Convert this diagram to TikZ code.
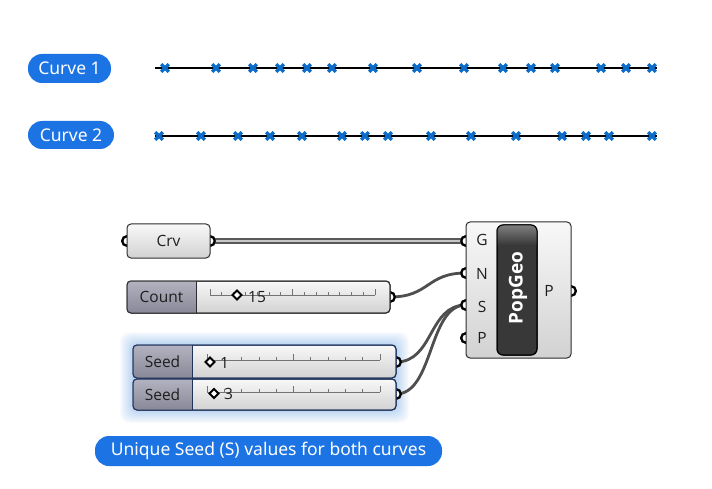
\documentclass[tikz,border=0pt]{standalone}
\usepackage{fontspec}
\setmainfont{Noto Sans}
\newfontfamily\ghfont{Open Sans}
\usetikzlibrary{calc}
\definecolor{pillblue}{RGB}{28,116,228}
\definecolor{xblue}{RGB}{12,108,200}
\definecolor{wirec}{RGB}{78,78,78}
\definecolor{ghborder}{RGB}{45,45,45}
\definecolor{selborder}{RGB}{30,50,90}
\definecolor{ghtop}{RGB}{248,248,248}
\definecolor{ghbot}{RGB}{210,210,210}
\definecolor{lbltop}{RGB}{178,178,192}
\definecolor{lblbot}{RGB}{136,136,152}
\definecolor{glowc}{RGB}{60,140,235}
\definecolor{ghtext}{RGB}{30,30,30}
\tikzset{
  pill/.style={fill=pillblue, text=white, rounded corners=14pt, inner sep=0pt,
    font=\fontsize{17.5}{20}\selectfont},
  xm/.pic={\draw[xblue, line width=3.2pt] (-3.8,-3.8)--(3.8,3.8) (-3.8,3.8)--(3.8,-3.8);},
  curveline/.style={black, line width=1.3pt},
  ghbox/.style={draw=ghborder, line width=1pt, rounded corners=4pt, top color=ghtop,
    bottom color=ghbot, inner sep=0pt, outer sep=0pt, anchor=north west},
  ghlabel/.style={text=ghtext, font=\ghfont\fontsize{15.5}{18}\selectfont, inner sep=0pt},
  port/.style={circle, draw=black, line width=2.2pt, fill=white, minimum size=9.5pt, inner sep=0pt},
  wire/.style={wirec, line width=2.8pt},
  dwire/.style={draw=black!65, double=black!22, line width=1.7pt, double distance=1.8pt},
  lblfill/.style={top color=lbltop, bottom color=lblbot},
  track/.style={black!55, line width=0.7pt},
  knob/.style={draw=black, fill=white, line width=2pt},
}
\begin{document}
\begin{tikzpicture}[x=1pt,y=1pt]
\useasboundingbox (0,0) rectangle (712,-489);
\fill[white] (0,0) rectangle (712,-489);

% ---- curve 1 ----
\node[pill, minimum width=83pt, minimum height=29pt] (lab1) at (69.5,-68.5) {Curve 1};
\coordinate (c1a) at (155,-68);
\coordinate (c1b) at (657,-68);
\draw[curveline] (c1a) -- (c1b);
\foreach \x in {165,216,253,280,307,332,373,417,464,503,531,555,601,626,652}
  \pic at (\x,-68) {xm};

% ---- curve 2 ----
\node[pill, minimum width=86pt, minimum height=28pt] (lab2) at (71,-135) {Curve 2};
\coordinate (c2a) at (155,-136);
\coordinate (c2b) at (657,-136);
\draw[curveline] (c2a) -- (c2b);
\foreach \x in {159,201,238,270,302,342,365,388,431,471,516,562,586,609,652}
  \pic at (\x,-136) {xm};

% ---- bottom label ----
\node[pill, minimum width=347pt, minimum height=30pt] (note) at (268.5,-451)
  {Unique Seed (S) values for both curves};

% ---- glow behind seed sliders ----
\foreach \e in {1,...,13}
  \fill[glowc, opacity=0.028, rounded corners=9pt] (133-\e,-345+\e) rectangle (396+\e,-410-\e);

% ---- ports ----
\node[port] (crvin)  at (127,-241) {};
\node[port] (crvout) at (210,-241) {};
\node[port] (cntout) at (390,-297) {};
\node[port] (s1out)  at (396,-362) {};
\node[port] (s2out)  at (396,-394) {};
\node[port] (pG) at (466,-241) {};
\node[port] (pN) at (466,-273) {};
\node[port] (pS) at (466,-305) {};
\node[port] (pP) at (466,-338) {};
\node[port] (pOut) at (571,-291) {};

% ---- wires ----
\draw[dwire] (crvout.center) -- (pG.center);
\draw[wire] (cntout.center) .. controls +(40,0) and +(-40,0) .. (pN.center);
\draw[wire] (s1out.center) .. controls +(38,0) and +(-38,0) .. (pS.center);
\draw[wire] (s2out.center) .. controls +(38,0) and +(-38,0) .. (pS.center);
\foreach \p in {crvin,crvout,cntout,s1out,s2out,pG,pN,pS,pP,pOut}
  \node[port] at (\p) {};

% ---- Crv ----
\node[ghbox, minimum width=83pt, minimum height=34pt] (crv) at (127,-224) {};
\node[ghlabel] (crvtxt) at (crv.center) {Crv};

% ---- Count slider ----
\node[ghbox, minimum width=263pt, minimum height=32pt] (cnt) at (127,-281) {};
\begin{scope}
  \clip (127,-281) rectangle (196,-313);
  \fill[lblfill, rounded corners=4pt] (127,-281) rectangle (210,-313);
\end{scope}
\draw[ghborder, line width=1pt] (196,-281) -- (196,-313);
\draw[ghborder, line width=1pt, rounded corners=4pt] (cnt.north west) rectangle (cnt.south east);
\node[ghlabel] (cntlbl) at (161.5,-297) {Count};
\draw[track] (210,-295) -- (375,-295);
\foreach \i in {0,...,14} \draw[track] (210+\i*165/14,-295) -- ++(0,3);
\foreach \i in {0,7,14} \draw[track] (210+\i*165/14,-295) -- ++(0,6);
\draw[knob] (237,-290.5) -- (241.5,-295) -- (237,-299.5) -- (232.5,-295) -- cycle;
\node[ghlabel, anchor=west] (cntval) at (248,-297) {15};

% ---- Seed sliders ----
\node[ghbox, draw=selborder, minimum width=263pt, minimum height=33pt] (seed1) at (133,-345) {};
\node[ghbox, draw=selborder, minimum width=263pt, minimum height=31pt] (seed2) at (133,-379) {};
\foreach \yt/\yb in {345/378,379/410}{
  \begin{scope}
    \clip (133,-\yt) rectangle (192,-\yb);
    \fill[lblfill, rounded corners=4pt] (133,-\yt) rectangle (205,-\yb);
  \end{scope}
  \draw[selborder, line width=1pt] (192,-\yt) -- (192,-\yb);
  \draw[selborder, line width=1pt, rounded corners=4pt] (133,-\yt) rectangle (396,-\yb);
}
\node[ghlabel] (s1lbl) at (162.5,-362) {Seed};
\node[ghlabel] (s2lbl) at (162.5,-394.5) {Seed};
\foreach \yy in {-360,-392}{
  \draw[track] (207,\yy) -- (380,\yy);
  \foreach \i in {0,...,10} \draw[track] (207+\i*17.3,\yy) -- ++(0,3);
  \foreach \i in {0,5,10} \draw[track] (207+\i*17.3,\yy) -- ++(0,6);
}
\draw[knob] (210,-357.5) -- (214.5,-362) -- (210,-366.5) -- (205.5,-362) -- cycle;
\node[ghlabel, anchor=west] (s1val) at (220,-362.5) {1};
\draw[knob] (214,-389) -- (218.5,-393.5) -- (214,-398) -- (209.5,-393.5) -- cycle;
\node[ghlabel, anchor=west] (s2val) at (224,-394) {3};

% ---- PopGeo component ----
\node[ghbox, minimum width=105pt, minimum height=136pt] (pg) at (466,-222) {};
\node[draw=black, line width=1pt, rounded corners=6pt, minimum width=40pt, minimum height=130pt,
  fill=black!78, inner sep=0pt, outer sep=0pt] (pgname) at (517,-290) {};
\begin{scope}
  \clip[rounded corners=6pt] (pgname.north west) rectangle (pgname.south east);
  \shade[top color=black!50, bottom color=black!78] (497,-225) rectangle (537,-245);
\end{scope}
\draw[black, line width=1pt, rounded corners=6pt] (pgname.north west) rectangle (pgname.south east);
\node[rotate=90, text=white, font=\ghfont\bfseries\fontsize{19}{22}\selectfont] (pgtxt) at (518,-288) {PopGeo};
\node[ghlabel] (lG) at (482,-240) {G};
\node[ghlabel] (lN) at (482,-274) {N};
\node[ghlabel] (lS) at (482,-307) {S};
\node[ghlabel] (lP) at (482,-338) {P};
\node[ghlabel] (lOut) at (549,-291) {P};
\end{tikzpicture}
\end{document}
